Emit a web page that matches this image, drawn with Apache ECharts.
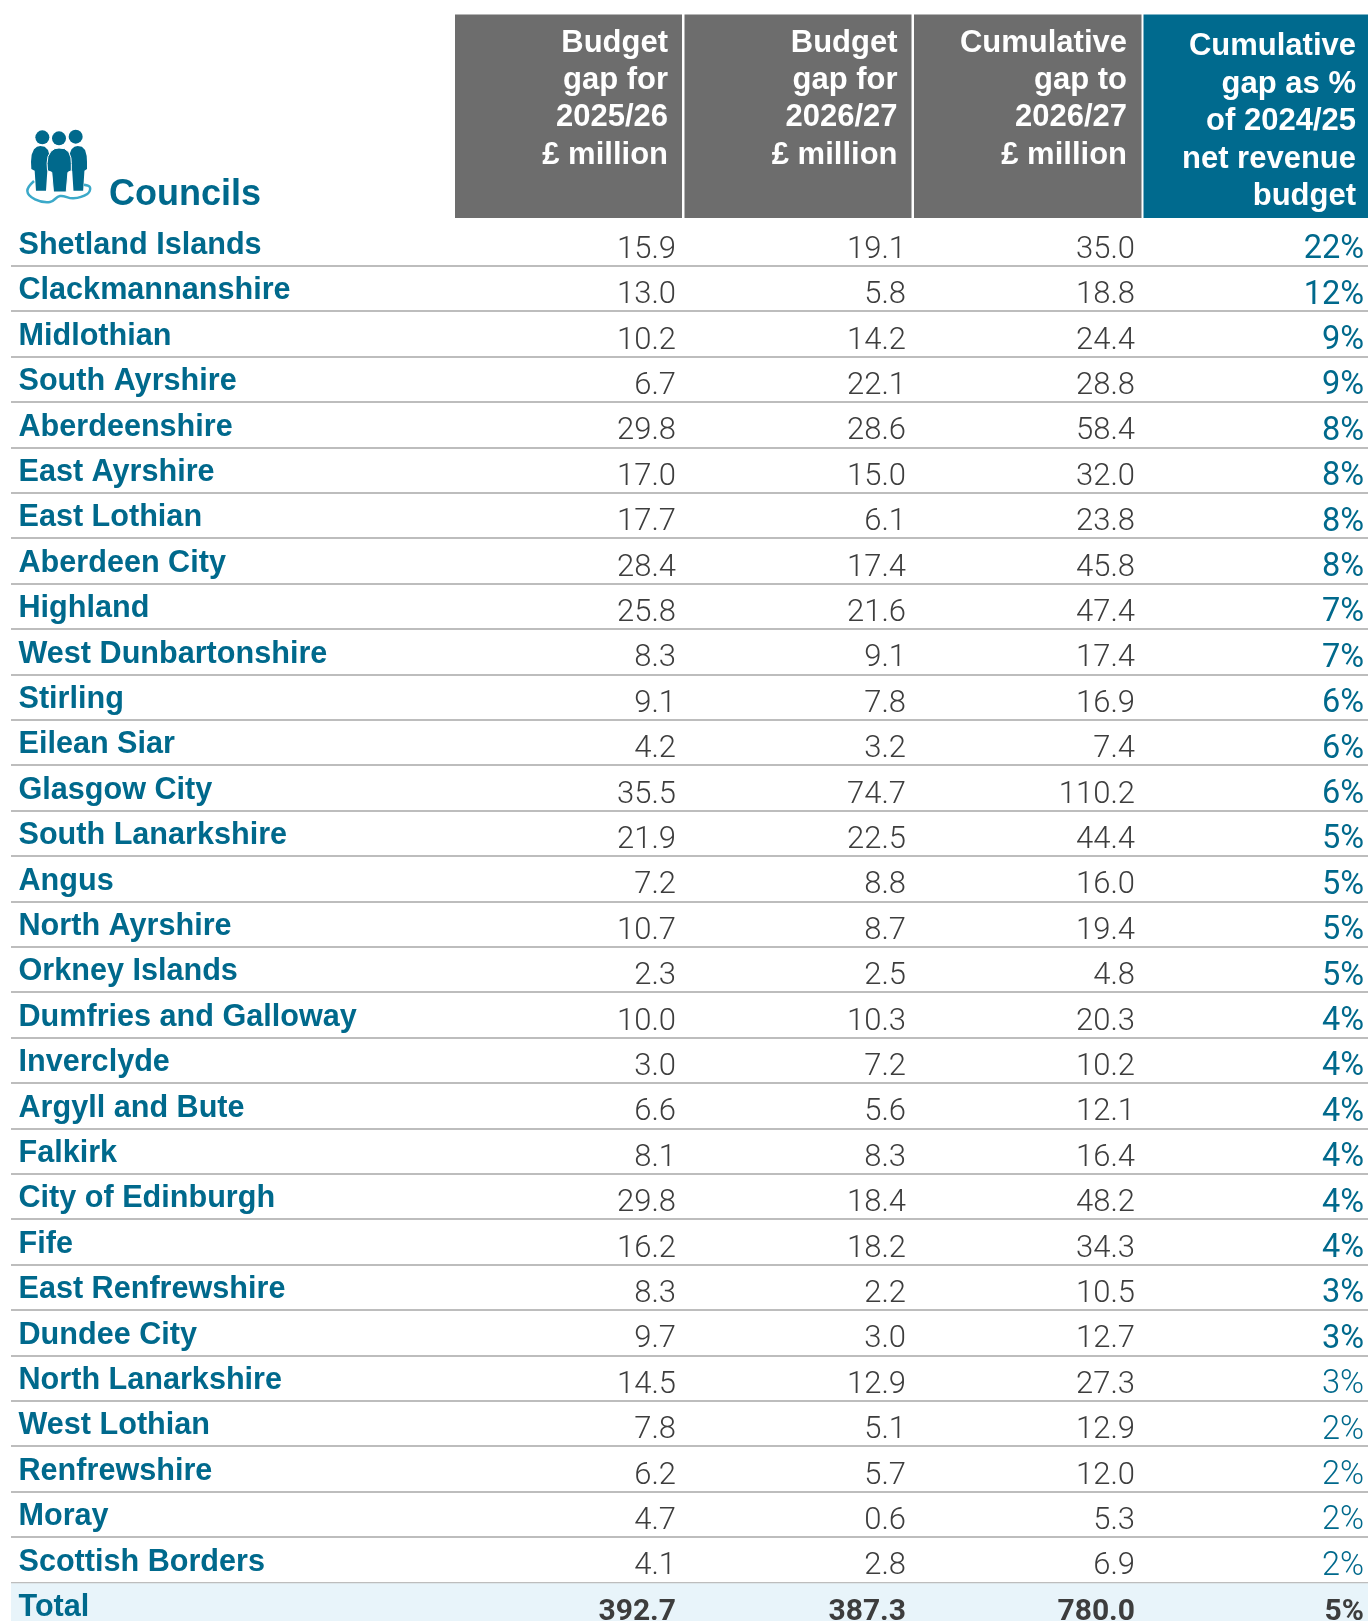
<!DOCTYPE html>
<html><head><meta charset="utf-8">
<style>html,body{margin:0;padding:0;background:#fff}#c{width:1368px;height:1621px}</style>
<script src="https://cdn.jsdelivr.net/npm/echarts@6/dist/echarts.min.js"></script>
</head><body><div id="c"></div>
<script>
const councils = ["Shetland Islands","Clackmannanshire","Midlothian","South Ayrshire","Aberdeenshire","East Ayrshire","East Lothian","Aberdeen City","Highland","West Dunbartonshire","Stirling","Eilean Siar","Glasgow City","South Lanarkshire","Angus","North Ayrshire","Orkney Islands","Dumfries and Galloway","Inverclyde","Argyll and Bute","Falkirk","City of Edinburgh","Fife","East Renfrewshire","Dundee City","North Lanarkshire","West Lothian","Renfrewshire","Moray","Scottish Borders","Total"];
const gap2025 = [15.9,13.0,10.2,6.7,29.8,17.0,17.7,28.4,25.8,8.3,9.1,4.2,35.5,21.9,7.2,10.7,2.3,10.0,3.0,6.6,8.1,29.8,16.2,8.3,9.7,14.5,7.8,6.2,4.7,4.1,392.7];
const gap2026 = [19.1,5.8,14.2,22.1,28.6,15.0,6.1,17.4,21.6,9.1,7.8,3.2,74.7,22.5,8.8,8.7,2.5,10.3,7.2,5.6,8.3,18.4,18.2,2.2,3.0,12.9,5.1,5.7,0.6,2.8,387.3];
const cumulative = [35.0,18.8,24.4,28.8,58.4,32.0,23.8,45.8,47.4,17.4,16.9,7.4,110.2,44.4,16.0,19.4,4.8,20.3,10.2,12.1,16.4,48.2,34.3,10.5,12.7,27.3,12.9,12.0,5.3,6.9,780.0];
const pctOfBudget = [22,12,9,9,8,8,8,8,7,7,6,6,6,5,5,5,5,4,4,4,4,4,4,3,3,3,2,2,2,2,5];
const headers = [
  ["Budget","gap for","2025/26","£ million"],
  ["Budget","gap for","2026/27","£ million"],
  ["Cumulative","gap to","2026/27","£ million"],
  ["Cumulative","gap as %","of 2024/25","net revenue","budget"]
];
const cornerTitle = "Councils";

const TEAL="#00698c", CYAN="#3ba9c9", GREY="#6d6d6d", INK="#3d3d3d", RULE="#bdbdbd", BAND="#e8f4fa";
const colRight=[676,906,1135,1364];
const headRight=[668,897.5,1127,1356];
const headRects=[[455,227],[684.5,227],[914,227.5],[1143.5,224.5]];
const headFirstY=[43,43,43,46.5], headStep=[37.4,37.4,37.4,37.5];
const lastRow=councils.length-1;

function valueSeries(name,values,col,fmt,color,bodyFont){
  return {
    name,type:'custom',coordinateSystem:'cartesian2d',silent:true,z:5,clip:false,
    encode:{x:0,y:1},
    data:values.map((v,i)=>[colRight[col],i,v]),
    renderItem(params,api){
      const row=api.value(1);
      const p=api.coord([api.value(0),row]);
      const total=row===lastRow;
      return {type:'text',x:p[0],y:p[1]+7,style:{
        text:fmt(api.value(2)),x:0,y:0,align:'right',verticalAlign:'middle',
        font:total?'700 30px Roboto':bodyFont(row),fill:total?INK:color}};
    }
  };
}
const f1=v=>v.toFixed(1), fp=v=>v+'%';
const lightNum=()=>'300 31px Roboto';
const pctFont=row=>(row<25?'400':'300')+' 32.5px Roboto';

const nameSeries={
  name:'Councils',type:'custom',coordinateSystem:'cartesian2d',silent:true,z:5,clip:false,
  encode:{x:0,y:1},
  data:councils.map((c,i)=>[18.5,i]),
  renderItem(params,api){
    const row=api.value(1);
    const p=api.coord([api.value(0),row]);
    return {type:'text',x:p[0],y:p[1]+2.5,style:{
      text:councils[row],x:0,y:0,align:'left',verticalAlign:'middle',
      font:'700 30.6px "Liberation Sans"',fill:TEAL}};
  }
};

const headerGraphics=[];
headers.forEach((lines,c)=>{
  headerGraphics.push({type:'rect',shape:{x:headRects[c][0],y:14.5,width:headRects[c][1],height:203.5},style:{fill:c===3?'#006a8e':GREY},z:1});
  lines.forEach((t,l)=>headerGraphics.push({type:'text',z:2,x:headRight[c],y:headFirstY[c]+l*headStep[c],
    style:{text:t,align:'right',verticalAlign:'middle',font:'700 31px "Liberation Sans"',fill:'#fff'}}));
});
headerGraphics.push({type:'text',z:2,x:109,y:195,style:{text:cornerTitle,align:'left',verticalAlign:'middle',font:'700 36px "Liberation Sans"',fill:TEAL}});

const ox=10,oy=120,k=1/3;
const bodyShape=[[91,78],[104,80],[114,90],[119,108],[120,125],[120,147],[112,152],[108,212],[78,212],[74,152],[64,147],[63,125],[65,104],[72,88],[81,80]];
function body(x0,x1,y0,y1,white){
  const sx=(x1-x0)/58, sy=(y1-y0)/134;
  return {type:'polygon',z:white?4:3,shape:{points:bodyShape.map(p=>[ox+(x0+(p[0]-62)*sx)*k,oy+(y0+(p[1]-78)*sy)*k])},
    style:{fill:TEAL,stroke:white?'#fff':null,lineWidth:white?1:0}};
}
const head=(x,y)=>({type:'circle',z:3,shape:{cx:ox+x*k,cy:oy+y*k,r:7},style:{fill:TEAL}});
const iconGraphics=[
  {type:'polyline',z:2,shape:{smooth:0.4,points:[[72,183],[52,213],[75,238],[120,246],[150,228],[190,235],[232,222],[240,202],[222,194]].map(p=>[ox+p[0]*k,oy+p[1]*k])},style:{stroke:CYAN,lineWidth:2.5,fill:null}},
  head(97,52),head(197,50),head(147,55),
  body(62,120,78,212),body(175,231,78,212),body(110,184,84,216,true)
];

const chart=echarts.init(document.getElementById('c'),null,{renderer:'canvas'});
chart.setOption({
  animation:false,
  backgroundColor:'#fff',
  grid:{left:11,right:0,top:220.3,height:45.4*councils.length,containLabel:false,outerBoundsMode:'none'},
  xAxis:{type:'value',min:11,max:1368,show:false},
  yAxis:{type:'category',inverse:true,data:councils,
    axisLine:{show:false},axisTick:{show:false},axisLabel:{show:false},
    splitLine:{show:true,interval:0,showMinLine:false,showMaxLine:false,lineStyle:{color:RULE,width:2}}
  },
  graphic:{elements:headerGraphics.concat(iconGraphics)},
  series:[
    {name:'Total band',type:'custom',silent:true,z:0,clip:false,data:[[lastRow]],encode:{y:0},
      renderItem(params,api){
        const c=api.coord([11,api.value(0)]),h=api.size([0,1])[1];
        return {type:'rect',shape:{x:c[0],y:c[1]-h/2+1,width:1357,height:h},style:{fill:BAND}};
      }},
    nameSeries,
    valueSeries('Budget gap for 2025/26',gap2025,0,f1,INK,lightNum),
    valueSeries('Budget gap for 2026/27',gap2026,1,f1,INK,lightNum),
    valueSeries('Cumulative gap to 2026/27',cumulative,2,f1,INK,lightNum),
    valueSeries('Cumulative gap as % of 2024/25 net revenue budget',pctOfBudget,3,fp,TEAL,pctFont)
  ]
});
</script></body></html>
